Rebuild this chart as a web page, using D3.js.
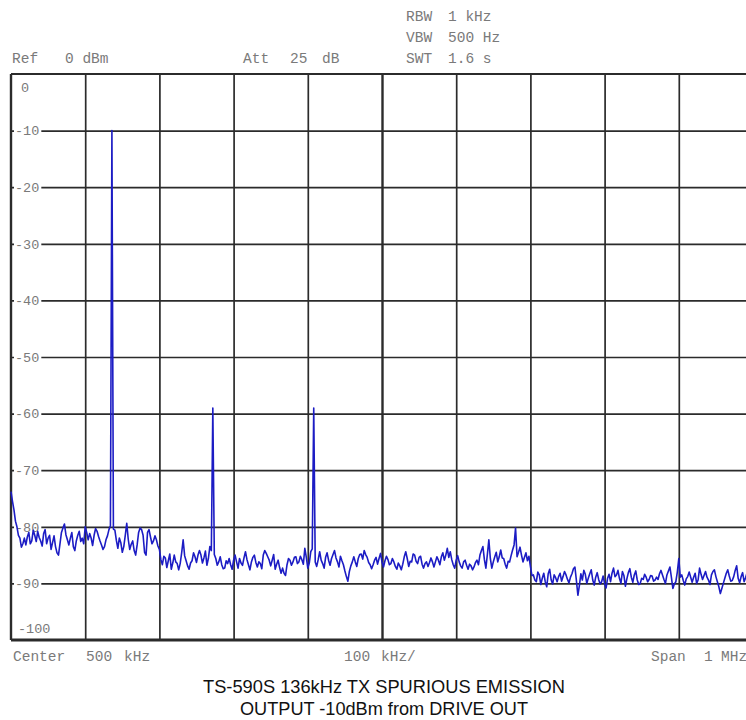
<!DOCTYPE html>
<html>
<head>
<meta charset="utf-8">
<script src="https://cdn.jsdelivr.net/npm/d3@7"></script>
<style>
  html, body { margin: 0; padding: 0; background: #fff; overflow: hidden; }
  svg { display: block; }
</style>
</head>
<body>
<svg id="chart" width="746" height="720"></svg>
<script>
// ---- Data ---------------------------------------------------------------
// Reference level grid (dBm) and frequency grid (kHz, 0..1 MHz span)
const levelTicks = [0, -10, -20, -30, -40, -50, -60, -70, -80, -90, -100];
const levelTickLabels = ["0", "-10", "-20", "-30", "-40", "-50", "-60", "-70", "-80", "-90", "-100"];
const freqGridKHz = [0, 100, 200, 300, 400, 500, 600, 700, 800, 900, 1000];

// Sweep: first point and spacing of the trace samples
const sweepStartKHz = 0;
const sweepStepKHz = 2;

// Measured trace level per sweep point (dBm), 0 .. 1000 kHz
const traceDbm = [
  -73.8, -75.5, -77, -79, -80, -81.5, -82, -83.6, -83, -82,
  -83.2, -81.8, -81, -83, -82.5, -80.6, -81.5, -82.6, -80.8, -81.9,
  -82.5, -83.4, -81.2, -80.5, -83, -82, -81.5, -84, -82.8, -81.6,
  -83.5, -84.6, -85, -83, -81, -80.2, -79.5, -81.4, -82.3, -83.2,
  -82, -81, -83.5, -84.2, -82.5, -81.5, -80.8, -82.6, -82, -83,
  -80, -81, -82.3, -81.2, -82, -83.3, -81.5, -80.3, -80.8, -81.7,
  -82.5, -83.2, -84, -83.5, -82.3, -81.6, -80.5, -79.8, -10, -80.4,
  -80.6, -82.4, -83.8, -82, -82.8, -84.5, -83.5, -81.5, -79.4, -82.2,
  -84, -83.1, -82.5, -84.2, -85, -83.2, -81, -80.2, -80.5, -81.5,
  -84.5, -85, -81, -80.5, -81.8, -83, -82.5, -81.6, -82.3, -83.4,
  -84, -85.8, -86.7, -85.2, -85.5, -87.2, -86, -84.8, -87.5, -86.4,
  -85, -86.2, -86.5, -87.6, -86.5, -84.6, -82.3, -85.1, -86, -86.9,
  -87.5, -86.4, -86, -84.6, -85.3, -86.3, -85, -84.2, -85, -86.4,
  -85.5, -84.3, -86.8, -85.6, -83.5, -84.2, -59, -84.9, -85.6, -86.8,
  -86.2, -85.3, -86.7, -87.4, -87.3, -86, -86.5, -85.6, -86.7, -87.5,
  -85.9, -85, -86.2, -87.3, -85.6, -86.4, -86.8, -85.5, -84.4, -85.8,
  -86.7, -87.6, -86.2, -85.4, -85, -86.3, -87.1, -86.2, -86.5, -87.4,
  -85, -84.2, -84.7, -85.3, -85.9, -86.9, -85.9, -84.9, -87.5, -86.6,
  -85.9, -87.2, -88.2, -87.3, -88.2, -88.6, -86.7, -85.6, -85.9, -86.8,
  -86.2, -85.4, -85.3, -86.5, -86.2, -85.2, -85.8, -86.6, -83.8, -85.4,
  -87.3, -86.4, -84.4, -83.9, -59, -86.2, -87, -85.8, -84.4, -85.9,
  -86.5, -87.3, -85.4, -84.6, -85.9, -86.8, -85.6, -84.9, -84.2, -85.5,
  -86.2, -87.1, -85.2, -86, -86.7, -87.8, -88.8, -89.6, -87.9, -86.9,
  -86.2, -85.3, -86.2, -87, -85.6, -84.9, -84.8, -85.7, -84.2, -84.9,
  -85.4, -86.3, -86.7, -87.4, -86.7, -85.9, -85.4, -86.6, -85.6, -84.7,
  -86.2, -87.1, -86, -85.2, -85.8, -86.7, -86.5, -85.6, -86.2, -87,
  -87.5, -86.4, -86.9, -87.6, -86.6, -85.3, -84.4, -85.6, -87, -86.1,
  -86.2, -84.8, -85, -86.1, -86.5, -85.4, -85.2, -86.6, -87.3, -86.5,
  -86.2, -87, -86.3, -85.5, -86.2, -87.1, -86.2, -85.3, -85.9, -86.7,
  -85.3, -84.6, -85.9, -85, -83.8, -85.4, -84.4, -85.8, -86.7, -87.3,
  -85.9, -85.1, -86.2, -86.9, -87.3, -86.2, -85.9, -86.8, -87.5, -86.6,
  -86.9, -87.6, -87.1, -86.3, -85.9, -86.7, -85, -84.2, -83.5, -85.8,
  -87.3, -84.9, -82.3, -85.6, -87.3, -86.2, -85.3, -84.5, -86.2, -85.3,
  -84.1, -85.5, -85.6, -86.6, -87.3, -86.1, -86.2, -85.1, -84.1, -83.2,
  -80.2, -85.3, -84.5, -83.6, -85, -86.2, -85.4, -84.6, -86, -85.2,
  -87, -88.6, -88.5, -89.4, -89.7, -88, -88.5, -90.2, -89.1, -88.2,
  -89.7, -90.6, -88.3, -87.5, -89.4, -90.1, -88.5, -89, -89.7, -88.8,
  -88.2, -89.6, -88.8, -87.9, -88.5, -89.3, -89.9, -88.9, -88.3, -87.4,
  -87.1, -89.5, -92.1, -90.4, -88.3, -89.4, -87.7, -88.4, -90, -89.1,
  -88.3, -87.6, -89.4, -90.3, -88.9, -88.1, -89.3, -90.1, -89.7, -88.7,
  -90, -90.8, -89.1, -88.4, -89.7, -88.2, -87.3, -88.8, -88.5, -87.7,
  -89.1, -90, -87.9, -88.6, -90.5, -89.2, -88.1, -87.4, -88.9, -89.8,
  -88.5, -87.8, -89.4, -90.2, -90, -89.1, -89.3, -88.4, -88.9, -89.7,
  -89.3, -88.6, -88.7, -89.6, -89.4, -88.9, -89.3, -88.3, -87.7, -88.5,
  -89.3, -90, -88.5, -87.8, -87.1, -88.9, -90.9, -90.1, -89.7, -88,
  -85.6, -88.9, -88.5, -89.5, -90.3, -89.2, -88.8, -88, -88.9, -89.8,
  -88.9, -88.2, -90, -89.4, -87.3, -88.4, -89.3, -88.6, -87.9, -88.9,
  -89.4, -90.2, -88.5, -87.9, -87.6, -88.8, -89.7, -90.6, -91.8, -90.9,
  -90, -89.1, -88.2, -87.6, -88.7, -89.6, -89.5, -88.8, -87.7, -86.9,
  -89.1, -89.9, -88.8, -88.1, -89.7, -89, -88.1, -88.7, -89.2, -89.6,
  -88.8
];

// Instrument annotation texts
const headerLabels = ["Ref", "0 dBm", "Att", "25", "dB"];
const sweepNames = ["RBW", "VBW", "SWT"];
const sweepValues = ["1 kHz", "500 Hz", "1.6 s"];
const footerLabels = ["Center", "500", "kHz", "100", "kHz/", "Span", "1", "MHz"];
const titleLines = ["TS-590S 136kHz TX SPURIOUS EMISSION", "OUTPUT -10dBm from DRIVE OUT"];

// ---- Layout -------------------------------------------------------------
const plot = { left: 11, right: 753, top: 74, bottom: 640 };
const headerX = [12, 65, 243, 290, 322];
const headerBaseline = 63;
const sweepNameX = 406, sweepValueX = 448;
const sweepBaselines = [21, 42, 63];
const footerX = [13, 86, 124, 344, 381, 651, 704, 721];
const footerBaseline = 661;
const titleCenterX = 384;
const titleBaselines = [693, 715];
const titleWidths = [362, 288];

const monoFont = "'Courier New', 'Liberation Mono', monospace";
const textGray = "#7a7a7a";
const gridColor = "#2b2b2b";
const traceColor = "#1c1cc4";

const svg = d3.select("#chart");
svg.append("rect").attr("width", 746).attr("height", 720).attr("fill", "#fff");

const x = d3.scaleLinear().domain([0, 1000]).range([plot.left, plot.right]);
const y = d3.scaleLinear().domain([-100, 0]).range([plot.bottom, plot.top]);

// ---- Grid ---------------------------------------------------------------
const grid = svg.append("g");

// Horizontal level lines
grid.append("g")
  .attr("transform", `translate(${plot.left},0)`)
  .call(d3.axisRight(y).tickValues(levelTicks.slice(1, -1))
    .tickSize(plot.right - plot.left).tickFormat(""))
  .call(g => g.select(".domain").remove())
  .call(g => g.selectAll("line").attr("stroke", gridColor).attr("stroke-width", 1.7));

// Vertical frequency lines (centre line drawn heavier)
grid.append("g")
  .attr("transform", `translate(0,${plot.top})`)
  .call(d3.axisBottom(x).tickValues(freqGridKHz.slice(1, -1))
    .tickSize(plot.bottom - plot.top).tickFormat(""))
  .call(g => g.select(".domain").remove())
  .call(g => g.selectAll("line")
    .attr("stroke", gridColor)
    .attr("stroke-width", d => d === 500 ? 2.4 : 1.7));

// Frame
grid.append("line").attr("x1", plot.left).attr("x2", plot.right)
  .attr("y1", plot.top).attr("y2", plot.top).attr("stroke", gridColor).attr("stroke-width", 2.2);
grid.append("line").attr("x1", plot.left).attr("x2", plot.right)
  .attr("y1", plot.bottom).attr("y2", plot.bottom).attr("stroke", gridColor).attr("stroke-width", 3);
grid.append("line").attr("x1", plot.left).attr("x2", plot.left)
  .attr("y1", plot.top).attr("y2", plot.bottom).attr("stroke", gridColor).attr("stroke-width", 2.4);
grid.append("line").attr("x1", plot.right).attr("x2", plot.right)
  .attr("y1", plot.top).attr("y2", plot.bottom).attr("stroke", gridColor).attr("stroke-width", 2.4);

// ---- Level labels -------------------------------------------------------
const labelLayer = svg.append("g")
  .attr("font-family", monoFont).attr("font-size", 13.5).attr("fill", textGray);

levelTicks.forEach((v, i) => {
  let ly = y(v), lx = 15;
  if (v === 0) { ly = y(v) + 13; lx = 21; }
  if (v === -100) { ly = y(v) - 12; lx = 18; }
  const t = labelLayer.append("text")
    .attr("x", lx).attr("y", ly).attr("dy", "0.35em")
    .text(levelTickLabels[i]);
  if (v !== 0 && v !== -100) {
    const b = t.node().getBBox();
    labelLayer.insert("rect", () => t.node())
      .attr("x", b.x - 1).attr("y", b.y + 1)
      .attr("width", b.width + 3).attr("height", b.height - 2)
      .attr("fill", "#fff");
  }
});

// ---- Trace --------------------------------------------------------------
const line = d3.line()
  .x((d, i) => x(sweepStartKHz + i * sweepStepKHz))
  .y(d => y(d));

svg.append("path")
  .datum(traceDbm)
  .attr("d", line)
  .attr("fill", "none")
  .attr("stroke", traceColor)
  .attr("stroke-width", 1.6)
  .attr("stroke-linejoin", "round");

// ---- Annotations --------------------------------------------------------
const ann = svg.append("g")
  .attr("font-family", monoFont).attr("font-size", 14.5).attr("fill", textGray);

headerLabels.forEach((t, i) => {
  ann.append("text").attr("x", headerX[i]).attr("y", headerBaseline).text(t);
});
sweepNames.forEach((t, i) => {
  ann.append("text").attr("x", sweepNameX).attr("y", sweepBaselines[i]).text(t);
  ann.append("text").attr("x", sweepValueX).attr("y", sweepBaselines[i]).text(sweepValues[i]);
});
footerLabels.forEach((t, i) => {
  ann.append("text").attr("x", footerX[i]).attr("y", footerBaseline).text(t);
});

const title = svg.append("g")
  .attr("font-family", "'Liberation Sans Narrow', 'Arial Narrow', 'Liberation Sans', Arial, sans-serif")
  .attr("font-size", 19).attr("fill", "#111").attr("text-anchor", "middle");
titleLines.forEach((t, i) => {
  title.append("text")
    .attr("x", titleCenterX).attr("y", titleBaselines[i])
    .attr("textLength", titleWidths[i]).attr("lengthAdjust", "spacingAndGlyphs")
    .text(t);
});
</script>
</body>
</html>
